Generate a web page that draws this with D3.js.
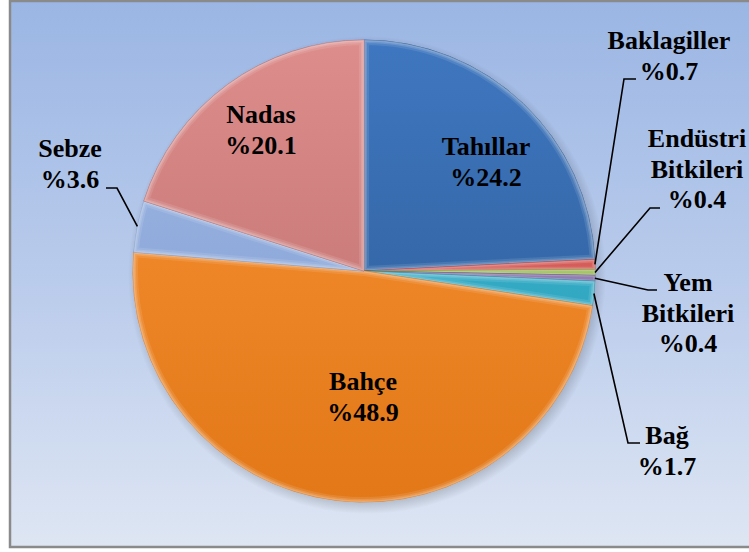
<!DOCTYPE html>
<html>
<head>
<meta charset="utf-8">
<script src="https://cdn.jsdelivr.net/npm/d3@7"></script>
<style>
  html, body { margin: 0; padding: 0; background: #fff; }
  svg { display: block; }
</style>
</head>
<body>
<svg id="chart" width="749" height="552"></svg>
<script>
// Land use shares (%), clockwise from 12 o'clock
const categories = ["Tahıllar", "Baklagiller", "Endüstri Bitkileri", "Yem Bitkileri", "Bağ", "Bahçe", "Sebze", "Nadas"];
const values = [24.2, 0.7, 0.4, 0.4, 1.7, 48.9, 3.6, 20.1];
const labelLines = [["Tahıllar"], ["Baklagiller"], ["Endüstri", "Bitkileri"], ["Yem", "Bitkileri"], ["Bağ"], ["Bahçe"], ["Sebze"], ["Nadas"]];

// Slice colours: [light, dark]
const sliceColors = [
  ["#3f77c0", "#2b5992"],
  ["#e65a56", "#bc3c38"],
  ["#a2c94e", "#7a9e30"],
  ["#866cb2", "#5c4786"],
  ["#46c6e0", "#2290aa"],
  ["#f99234", "#e27818"],
  ["#9fb9e6", "#7f9ccf"],
  ["#dd8e8c", "#b96b69"]
];

// Label placement: baseline of the first line, leader-line elbow and end
const labelLayout = [
  { x: 486, y: 155, inside: true },
  { x: 669, y: 49, elbow: [624, 79], end: [636, 79] },
  { x: 697, y: 147, elbow: [650, 208], end: [660, 208] },
  { x: 688, y: 291, elbow: [648, 290], end: [657, 290] },
  { x: 667, y: 444, elbow: [628, 443], end: [640, 443] },
  { x: 363, y: 390, inside: true },
  { x: 70, y: 157, elbow: [117, 188], end: [106, 188] },
  { x: 261, y: 123, inside: true }
];

const W = 749, H = 552;
const cx = 364, cy = 271, R = 231;
const lineH = 30.5;

const svg = d3.select("#chart");
const defs = svg.append("defs");

// Panel background
const bg = defs.append("linearGradient").attr("id", "bg").attr("x1", 0).attr("y1", 0).attr("x2", 0).attr("y2", 1);
bg.append("stop").attr("offset", "0%").attr("stop-color", "#9bb6e4");
bg.append("stop").attr("offset", "55%").attr("stop-color", "#bccdec");
bg.append("stop").attr("offset", "100%").attr("stop-color", "#dee6f3");

svg.append("rect").attr("x", 10).attr("y", 1).attr("width", W + 10).attr("height", 546)
  .attr("fill", "url(#bg)").attr("stroke", "#8a8a8a").attr("stroke-width", 2.5);

// Soft shadow ring behind the pie
const sh = defs.append("radialGradient").attr("id", "shade");
sh.append("stop").attr("offset", "92%").attr("stop-color", "#000").attr("stop-opacity", 0.25);
sh.append("stop").attr("offset", "100%").attr("stop-color", "#000").attr("stop-opacity", 0);

sliceColors.forEach((c, i) => {
  const gr = defs.append("linearGradient").attr("id", "g" + i)
    .attr("gradientUnits", "userSpaceOnUse")
    .attr("x1", 0).attr("y1", -R).attr("x2", 0).attr("y2", R);
  gr.append("stop").attr("offset", "0%").attr("stop-color", c[0]);
  gr.append("stop").attr("offset", "100%").attr("stop-color", c[1]);
});

const data = categories.map((name, i) => ({ name, value: values[i], i }));
const pie = d3.pie().value(d => d.value).sort(null);
const arcs = pie(data);
const arc = d3.arc().innerRadius(0).outerRadius(R);

// Clip paths (pie-centred coordinates) keep the rim highlight inside each slice
arcs.forEach(a => {
  defs.append("clipPath").attr("id", "c" + a.data.i)
    .append("path").attr("d", arc(a));
});

const g = svg.append("g").attr("transform", `translate(${cx},${cy})`);

g.append("circle").attr("cx", 3).attr("cy", 4).attr("r", R + 8).attr("fill", "url(#shade)");

const slices = g.selectAll("g.slice").data(arcs).join("g").attr("class", "slice");

slices.append("path")
  .attr("d", arc)
  .attr("fill", d => `url(#g${d.data.i})`)
  .attr("stroke", d => sliceColors[d.data.i][1])
  .attr("stroke-width", 0.8);

// Rounded-bevel rim: layered light strokes
const rims = slices.append("g").attr("clip-path", d => `url(#c${d.data.i})`);
[[10, 0.10], [6, 0.14], [3, 0.18]].forEach(([w, o]) => {
  rims.append("path")
    .attr("d", arc)
    .attr("fill", "none")
    .attr("stroke", "#ffffff")
    .attr("stroke-opacity", o)
    .attr("stroke-width", w)
    .attr("stroke-linejoin", "round");
});

// Leader lines from slice rim to outside labels
const fmt = v => "%" + v.toFixed(1);
arcs.forEach(a => {
  const L = labelLayout[a.data.i];
  if (L.inside) return;
  const mid = (a.startAngle + a.endAngle) / 2;
  const px = cx + R * Math.sin(mid), py = cy - R * Math.cos(mid);
  svg.append("polyline")
    .attr("points", [[px, py], L.elbow, L.end].map(p => p.join(",")).join(" "))
    .attr("fill", "none").attr("stroke", "#000").attr("stroke-width", 1.6);
});

// Labels: category name line(s) followed by percentage
arcs.forEach(a => {
  const L = labelLayout[a.data.i];
  const lines = labelLines[a.data.i].concat([fmt(a.data.value)]);
  const t = svg.append("text")
    .attr("font-family", "Liberation Serif").attr("font-weight", "bold").attr("font-size", 26)
    .attr("text-anchor", "middle");
  lines.forEach((s, k) => {
    t.append("tspan").attr("x", L.x).attr("y", L.y + k * lineH).text(s);
  });
});
</script>
</body>
</html>
